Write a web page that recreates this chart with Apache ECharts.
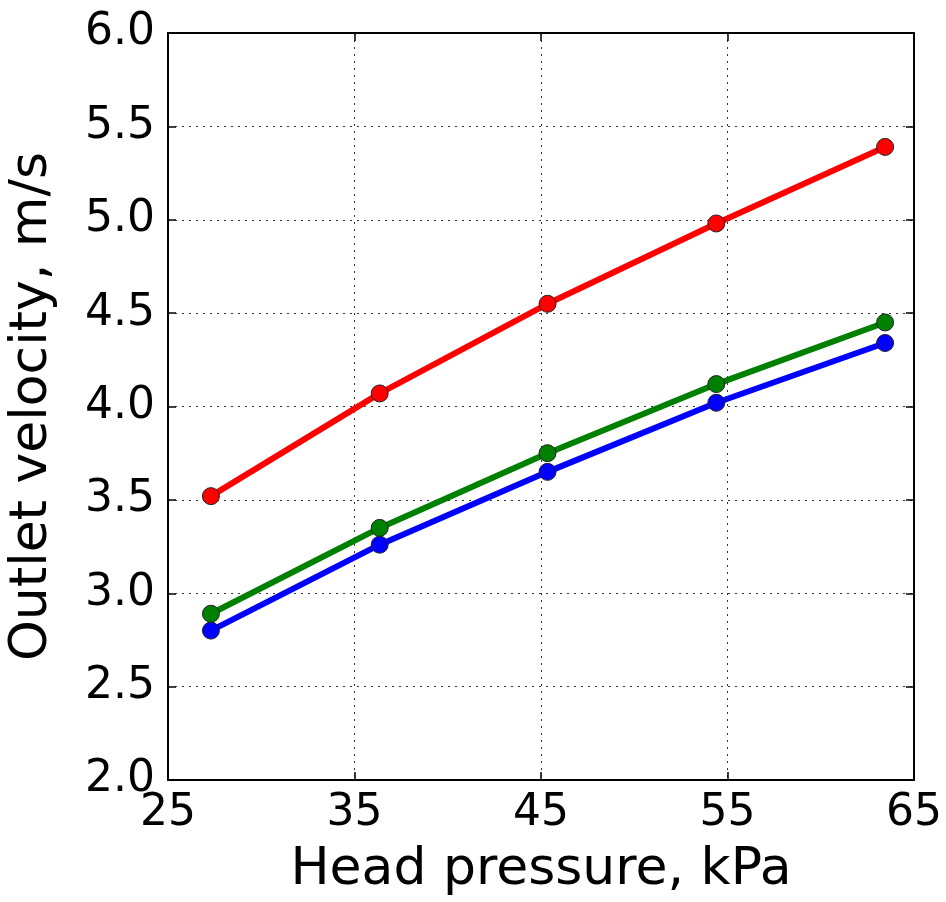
<!DOCTYPE html>
<html>
<head>
<meta charset="utf-8">
<script src="https://cdn.jsdelivr.net/npm/echarts@6/dist/echarts.min.js"></script>
<style>
html, body { margin: 0; padding: 0; background: #fff; }
#chart { width: 946px; height: 902px; }
</style>
</head>
<body>
<div id="chart"></div>
<script>
// Head pressure (kPa) at each measured point
const headPressure = [27.3, 36.35, 45.35, 54.4, 63.45];
// Outlet velocity (m/s) for the three configurations
const velocityRed   = [3.52, 4.07, 4.55, 4.98, 5.39];
const velocityGreen = [2.89, 3.35, 3.75, 4.12, 4.45];
const velocityBlue  = [2.80, 3.26, 3.65, 4.02, 4.34];

const xTicks = { min: 25, max: 65, interval: 10 };
const yTicks = { min: 2.0, max: 6.0, interval: 0.5 };

const FONT = 'DejaVu Sans';

function pairs(xs, ys) {
  return xs.map((x, i) => [x, ys[i]]);
}

function lineSeries(name, color, values) {
  return {
    name: name,
    type: 'line',
    data: pairs(headPressure, values),
    symbol: 'circle',
    symbolSize: 17,
    lineStyle: { color: color, width: 6 },
    itemStyle: { color: color, borderColor: '#222', borderWidth: 1 },
    z: 3
  };
}

const gridLine = { show: true, lineStyle: { color: '#333', type: [2, 5], width: 1 } };
const tickIn = { show: true, inside: true, length: 8, lineStyle: { color: '#000', width: 1.5 } };

const chart = echarts.init(document.getElementById('chart'));
chart.setOption({
  animation: false,
  backgroundColor: '#fff',
  grid: {
    left: 168, right: 32, top: 33, bottom: 122, show: false,
    containLabel: false, outerBoundsMode: 'none'
  },
  xAxis: [{
    type: 'value',
    min: xTicks.min, max: xTicks.max, interval: xTicks.interval,
    name: 'Head pressure, kPa',
    nameLocation: 'middle',
    nameGap: 64,
    nameTextStyle: { fontFamily: FONT, fontSize: 52, color: '#000' },
    axisLine: { show: true, onZero: false, lineStyle: { color: '#000', width: 2 } },
    axisTick: tickIn,
    axisLabel: { fontFamily: FONT, fontSize: 44, color: '#000', margin: 12 },
    splitLine: gridLine
  }, {
    type: 'value', position: 'top',
    min: xTicks.min, max: xTicks.max, interval: xTicks.interval,
    axisLine: { show: true, lineStyle: { color: '#000', width: 2 } },
    axisTick: tickIn,
    axisLabel: { show: false },
    splitLine: { show: false }
  }],
  yAxis: [{
    type: 'value',
    min: yTicks.min, max: yTicks.max, interval: yTicks.interval,
    name: 'Outlet velocity, m/s',
    nameLocation: 'middle',
    nameGap: 110,
    nameTextStyle: { fontFamily: FONT, fontSize: 52, color: '#000' },
    axisLine: { show: true, onZero: false, lineStyle: { color: '#000', width: 2 } },
    axisTick: tickIn,
    axisLabel: {
      fontFamily: FONT, fontSize: 44, color: '#000', margin: 13,
      formatter: v => v.toFixed(1)
    },
    splitLine: gridLine
  }, {
    type: 'value', position: 'right',
    min: yTicks.min, max: yTicks.max, interval: yTicks.interval,
    axisLine: { show: true, lineStyle: { color: '#000', width: 2 } },
    axisTick: tickIn,
    axisLabel: { show: false },
    splitLine: { show: false }
  }],
  series: [
    lineSeries('blue', '#0000ff', velocityBlue),
    lineSeries('green', '#008000', velocityGreen),
    lineSeries('red', '#ff0000', velocityRed)
  ]
});
</script>
</body>
</html>
